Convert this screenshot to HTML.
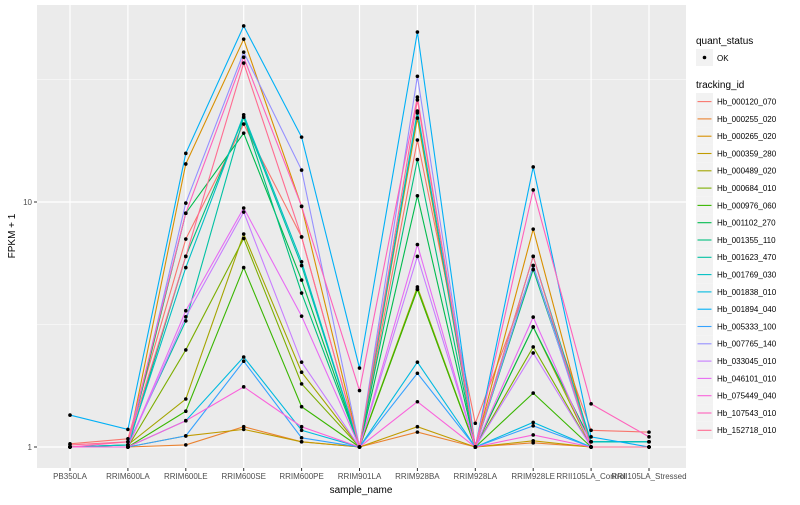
<!DOCTYPE html>
<html><head><meta charset="utf-8"><style>
body{margin:0;background:#fff;font-family:"Liberation Sans",sans-serif}
svg text{font-family:"Liberation Sans",sans-serif}
</style></head><body>
<svg id="c" width="800" height="500" xmlns="http://www.w3.org/2000/svg"></svg>
<script>
const samples=["PB350LA","RRIM600LA","RRIM600LE","RRIM600SE","RRIM600PE","RRIM901LA","RRIM928BA","RRIM928LA","RRIM928LE","RRII105LA_Control","RRII105LA_Stressed"];
const ids=["Hb_000120_070","Hb_000255_020","Hb_000265_020","Hb_000359_280","Hb_000489_020","Hb_000684_010","Hb_000976_060","Hb_001102_270","Hb_001355_110","Hb_001623_470","Hb_001769_030","Hb_001838_010","Hb_001894_040","Hb_005333_100","Hb_007765_140","Hb_033045_010","Hb_046101_010","Hb_075449_040","Hb_107543_010","Hb_152718_010"];
const colors=["#F8766D","#EA8331","#D89000","#C09B00","#A3A500","#7CAE00","#39B600","#00BB4E","#00BF7D","#00C1A3","#00BFC4","#00BAE0","#00B0F6","#35A2FF","#9590FF","#C77CFF","#E76BF3","#FA62DB","#FF62BC","#FF6C91"];
const s000120=[1.03,1.08,7.06,20.8,7.2,1.0,17.9,1.25,5.3,1.17,1.15];
const s000255=[1.0,1.0,1.02,1.21,1.05,1.0,1.15,1.0,1.04,1.0,1.0];
const s000265=[1.0,1.0,14.3,46.2,9.6,1.0,22.0,1.0,7.75,1.0,1.0];
const s000359=[1.0,1.0,1.11,1.18,1.05,1.0,1.21,1.0,1.06,1.0,1.0];
const s000489=[1.0,1.02,1.57,7.4,2.02,1.0,4.5,1.0,3.09,1.0,1.0];
const s000684=[1.0,1.0,2.49,7.1,1.81,1.0,4.4,1.0,2.56,1.0,1.0];
const s000976=[1.0,1.0,1.4,5.4,1.46,1.0,4.4,1.0,1.66,1.0,1.0];
const s001102=[1.0,1.0,9.0,19.1,4.8,1.0,10.6,1.0,3.09,1.05,1.05];
const s001355=[1.0,1.0,6.0,22.2,4.25,1.0,14.9,1.0,5.3,1.05,1.05];
const s001623=[1.0,1.02,3.27,22.2,5.5,1.0,23.1,1.0,6.0,1.05,1.05];
const s001769=[1.0,1.02,5.4,22.7,5.7,1.0,23.5,1.0,5.5,1.05,1.05];
const s001838=[1.0,1.0,1.28,2.33,1.17,1.0,2.22,1.0,1.26,1.0,1.0];
const s001894=[1.35,1.18,15.8,52.3,18.4,2.1,49.4,1.0,13.9,1.1,1.0];
const s005333=[1.0,1.0,1.11,2.24,1.09,1.0,2.0,1.0,1.22,1.0,1.0];
const s007765=[1.0,1.0,9.9,40.9,13.5,1.0,32.6,1.0,5.5,1.0,1.0];
const s033045=[1.0,1.0,3.4,9.1,2.22,1.0,6.0,1.0,2.42,1.0,1.0];
const s046101=[1.0,1.0,3.6,9.45,3.42,1.0,6.7,1.0,3.39,1.0,1.0];
const s075449=[1.0,1.0,1.28,1.76,1.21,1.0,1.53,1.0,1.12,1.0,1.0];
const s107543=[1.0,1.05,9.0,39.0,9.6,1.7,26.8,1.0,11.2,1.5,1.1];
const s152718=[1.02,1.05,6.0,36.9,7.2,1.0,26.1,1.0,6.0,1.0,1.0];
const series=[s000120,s000255,s000265,s000359,s000489,s000684,s000976,s001102,s001355,s001623,s001769,s001838,s001894,s005333,s007765,s033045,s046101,s075449,s107543,s152718];
const yTicks=[1,10];
const yMinor=[Math.sqrt(10),Math.pow(10,1.5)];

const NS="http://www.w3.org/2000/svg";
const svg=document.getElementById('c');
function mk(t,a,p){const e=document.createElementNS(NS,t);for(const k in a)e.setAttribute(k,a[k]);(p||svg).appendChild(e);return e;}
const PL=37,PR=686,PT=5,PB=468;
const x=i=>70+i*(649-70)/(samples.length-1);
const y=v=>447-245*Math.log10(v);

const bg=mk('rect',{x:PL,y:PT,width:PR-PL,height:PB-PT,fill:'#EBEBEB'});


yMinor.forEach(v=>{const l=mk('line',{x1:PL,x2:PR,y1:y(v),y2:y(v),stroke:'#fff','stroke-width':0.6});

});
yTicks.forEach(v=>{const l=mk('line',{x1:PL,x2:PR,y1:y(v),y2:y(v),stroke:'#fff','stroke-width':1.2});


const tk=mk('line',{x1:PL-3,x2:PL,y1:y(v),y2:y(v),stroke:'#333','stroke-width':1});


const t=mk('text',{x:PL-5,y:y(v)+3,'text-anchor':'end','font-size':8,fill:'#4d4d4d'});t.textContent=v;

});
samples.forEach((s,i)=>{const l=mk('line',{x1:x(i),x2:x(i),y1:PT,y2:PB,stroke:'#fff','stroke-width':1.2});


const tk=mk('line',{x1:x(i),x2:x(i),y1:PB,y2:PB+3,stroke:'#333','stroke-width':1});


const t=mk('text',{x:x(i),y:479,'text-anchor':'middle','font-size':8,fill:'#4d4d4d'});t.textContent=s;

});

series.forEach((d,k)=>{
 const p=mk('polyline',{points:d.map((v,i)=>x(i)+','+y(v)).join(' '),fill:'none',stroke:colors[k],'stroke-width':1.1});
 
 
});
series.forEach((d,k)=>{d.forEach((v,i)=>{
 const c=mk('circle',{cx:x(i),cy:y(v),r:1.8,fill:'#000'});
 
 
});});

const xt=mk('text',{x:361,y:493,'text-anchor':'middle','font-size':10,fill:'#000'});xt.textContent='sample_name';


const yt=mk('text',{x:15,y:236,'text-anchor':'middle','font-size':10,fill:'#000',transform:'rotate(-90 15 236)'});yt.textContent='FPKM + 1';



const lt1=mk('text',{x:696,y:44,'font-size':10,fill:'#000'});lt1.textContent='quant_status';


const okb=mk('rect',{x:696,y:49,width:17,height:17,fill:'#F2F2F2'});


const okd=mk('circle',{cx:704.5,cy:57.5,r:1.8,fill:'#000'});


const okt=mk('text',{x:717,y:61,'font-size':8,fill:'#000'});okt.textContent='OK';


const lt2=mk('text',{x:696,y:88,'font-size':10,fill:'#000'});lt2.textContent='tracking_id';


ids.forEach((id,k)=>{
 const yy=93+k*17.3;
 const g=mk('g',{});
 
 
 mk('rect',{x:696,y:yy,width:17,height:17.3,fill:'#F2F2F2'},g);
 mk('line',{x1:697.5,x2:711.5,y1:yy+8.6,y2:yy+8.6,stroke:colors[k],'stroke-width':1.1},g);
 const t=mk('text',{x:717,y:yy+11.5,'font-size':8,fill:'#000'},g);t.textContent=id;
});
</script>
</body></html>
